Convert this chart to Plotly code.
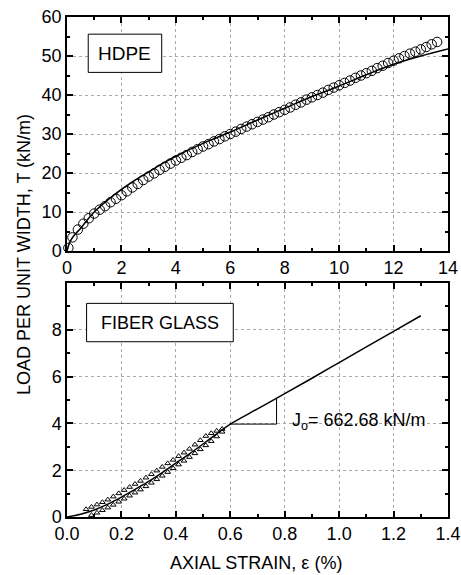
import plotly.graph_objects as go

# ---------------- data ----------------
# HDPE (top panel): measured points (open circles)
hdpe_strain = [0.05] + [round(0.2 * i, 1) for i in range(1, 69)]
hdpe_load = [0.8, 3.5, 5.5, 7.0, 8.4, 9.6, 10.6, 11.5, 12.5, 13.4,
             14.3, 15.3, 16.3, 17.2, 18.2, 19.1, 19.9, 20.8, 21.6, 22.4,
             23.2, 23.9, 24.6, 25.4, 26.1, 26.8, 27.4, 28.1, 28.7, 29.4,
             30.0, 30.6, 31.3, 31.9, 32.5, 33.1, 33.7, 34.3, 35.0, 35.6,
             36.2, 36.8, 37.5, 38.1, 38.8, 39.4, 40.0, 40.6, 41.3, 41.9,
             42.5, 43.1, 43.7, 44.4, 45.0, 45.6, 46.2, 46.9, 47.5, 48.2,
             48.8, 49.4, 50.0, 50.6, 51.1, 51.7, 52.3, 53.0, 53.6]
# HDPE fitted curve (solid line)
hdpe_fit_strain = [0, 0.1, 0.25, 0.5, 0.75, 1, 1.5, 2, 2.5, 3, 3.5, 4, 5, 6, 7, 8, 9, 10, 11, 12, 13, 14]
hdpe_fit_load = [0, 2.2, 3.9, 5.8, 8.0, 10.0, 13.1, 15.8, 18.2, 20.3, 22.4, 24.3, 27.6, 30.5,
                 33.6, 36.6, 39.6, 42.3, 45.2, 47.9, 50.0, 51.8]

# Fiber glass (bottom panel): measured points, two rows of triangles
fg_upper_strain = [0.07, 0.09, 0.11, 0.13, 0.15, 0.17, 0.19, 0.21, 0.23, 0.25, 0.27, 0.29, 0.31,
                   0.33, 0.35, 0.37, 0.39, 0.41, 0.43, 0.45, 0.47, 0.49, 0.51, 0.53, 0.55, 0.57]
fg_upper_load = [0.33, 0.43, 0.53, 0.63, 0.74, 0.87, 1.01, 1.15, 1.28, 1.41, 1.54, 1.68, 1.83,
                 1.98, 2.14, 2.29, 2.44, 2.60, 2.75, 2.91, 3.09, 3.28, 3.46, 3.58, 3.68, 3.76]
fg_lower_strain = [0.09, 0.11, 0.13, 0.15, 0.17, 0.19, 0.21, 0.23, 0.25, 0.27, 0.29, 0.31, 0.33,
                   0.35, 0.37, 0.39, 0.41, 0.43, 0.45, 0.47, 0.49, 0.51, 0.53, 0.55, 0.57]
fg_lower_load = [0.08, 0.18, 0.29, 0.40, 0.52, 0.65, 0.78, 0.91, 1.04, 1.17, 1.31, 1.46, 1.61,
                 1.76, 1.92, 2.08, 2.24, 2.40, 2.56, 2.72, 2.89, 3.06, 3.24, 3.44, 3.64]
# Fiber glass fitted curve
fg_fit_strain = [0, 0.05, 0.1, 0.15, 0.2, 0.25, 0.3, 0.35, 0.4, 0.45, 0.5, 0.55, 0.6,
                 0.7, 0.8, 0.9, 1.0, 1.1, 1.2, 1.3]
fg_fit_load = [0, 0.12, 0.3, 0.55, 0.85, 1.18, 1.52, 1.9, 2.3, 2.7, 3.12, 3.55, 3.97,
               4.62, 5.27, 5.93, 6.6, 7.27, 7.93, 8.6]
# slope triangle for J_o
slope_tri_strain = [0.6, 0.77, 0.77]
slope_tri_load = [3.97, 3.97, 5.08]

top_xticks = [0, 2, 4, 6, 8, 10, 12, 14]
top_yticks = [0, 10, 20, 30, 40, 50, 60]
bot_xticks = [0.0, 0.2, 0.4, 0.6, 0.8, 1.0, 1.2, 1.4]
bot_xticklabels = ["0.0", "0.2", "0.4", "0.6", "0.8", "1.0", "1.2", "1.4"]
bot_yticks = [0, 2, 4, 6, 8]

FONT = "Liberation Sans, Arial, sans-serif"
BLACK = "black"

fig = go.Figure()

# top panel
fig.add_trace(go.Scatter(x=hdpe_strain, y=hdpe_load, mode="markers",
                         marker=dict(symbol="circle-open", size=9.5, color=BLACK, line=dict(width=1)),
                         xaxis="x", yaxis="y", showlegend=False, cliponaxis=False))
fig.add_trace(go.Scatter(x=hdpe_fit_strain, y=hdpe_fit_load, mode="lines",
                         line=dict(color=BLACK, width=1.5, shape="spline"),
                         xaxis="x", yaxis="y", showlegend=False))
# bottom panel
fig.add_trace(go.Scatter(x=fg_upper_strain, y=fg_upper_load, mode="markers",
                         marker=dict(symbol="triangle-up-open", size=5, color=BLACK, line=dict(width=1)),
                         xaxis="x2", yaxis="y2", showlegend=False))
fig.add_trace(go.Scatter(x=fg_lower_strain, y=fg_lower_load, mode="markers",
                         marker=dict(symbol="triangle-up-open", size=5, color=BLACK, line=dict(width=1)),
                         xaxis="x2", yaxis="y2", showlegend=False))
fig.add_trace(go.Scatter(x=fg_fit_strain, y=fg_fit_load, mode="lines",
                         line=dict(color=BLACK, width=1.5, shape="spline"),
                         xaxis="x2", yaxis="y2", showlegend=False))
fig.add_trace(go.Scatter(x=slope_tri_strain, y=slope_tri_load, mode="lines",
                         line=dict(color=BLACK, width=1),
                         xaxis="x2", yaxis="y2", showlegend=False))

axis_common = dict(showline=True, linecolor=BLACK, linewidth=1.5, mirror="allticks",
                   ticks="inside", ticklen=6, tickwidth=1.5, tickcolor=BLACK,
                   showgrid=True, gridcolor="#a8a8a8", gridwidth=1, griddash="dot",
                   zeroline=False, automargin=False, ticklabeloverflow="allow",
                   tickfont=dict(family=FONT, size=18, color=BLACK))

fig.update_layout(
    width=461, height=575,
    margin=dict(l=67, r=13, t=17, b=58),
    paper_bgcolor="white", plot_bgcolor="white",
    font=dict(family=FONT, size=18, color=BLACK),
    xaxis=dict(domain=[0, 1], anchor="y", range=[0, 14], tickvals=top_xticks,
               minor=dict(ticks="inside", ticklen=3, dtick=1, tick0=0, tickcolor=BLACK, showgrid=False),
               **axis_common),
    yaxis=dict(domain=[0.532, 1], anchor="x", range=[0, 60], tickvals=top_yticks,
               minor=dict(ticks="inside", ticklen=3, dtick=5, tick0=0, tickcolor=BLACK, showgrid=False),
               **axis_common),
    xaxis2=dict(domain=[0, 1], anchor="y2", range=[0, 1.4], tickvals=bot_xticks,
                ticktext=bot_xticklabels,
                minor=dict(ticks="inside", ticklen=3, dtick=0.1, tick0=0, tickcolor=BLACK, showgrid=False),
                **axis_common),
    yaxis2=dict(domain=[0, 0.468], anchor="x2", range=[0, 10], tickvals=bot_yticks,
                minor=dict(ticks="inside", ticklen=3, dtick=1, tick0=0, tickcolor=BLACK, showgrid=False),
                **axis_common),
)

# label boxes
fig.add_shape(type="rect", xref="x", yref="y", x0=0.78, x1=3.48, y0=45.8, y1=55.6,
              line=dict(color=BLACK, width=1), fillcolor="white", layer="above")
fig.add_annotation(x=2.13, y=50.7, xref="x", yref="y", text="HDPE", showarrow=False,
                   xanchor="center", yanchor="middle",
                   font=dict(family=FONT, size=19, color=BLACK))
fig.add_shape(type="rect", xref="x2", yref="y2", x0=0.072, x1=0.611, y0=7.49, y1=9.13,
              line=dict(color=BLACK, width=1), fillcolor="white", layer="above")
fig.add_annotation(x=0.342, y=8.31, xref="x2", yref="y2", text="FIBER GLASS", showarrow=False,
                   xanchor="center", yanchor="middle",
                   font=dict(family=FONT, size=18, color=BLACK))

fig.add_annotation(x=0.82, y=4.1, xref="x2", yref="y2", xanchor="left", yanchor="middle",
                   text="J<sub>o</sub>= 662.68 kN/m", showarrow=False,
                   font=dict(family=FONT, size=18, color=BLACK))

# axis titles
fig.add_annotation(x=0.497, y=-0.092, xref="paper", yref="paper", text="AXIAL STRAIN, ε (%)",
                   xanchor="center", yanchor="middle",
                   showarrow=False, font=dict(family=FONT, size=18, color=BLACK))
fig.add_annotation(x=-0.113, y=0.526, xref="paper", yref="paper", textangle=-90,
                   xanchor="center", yanchor="middle",
                   text="LOAD PER UNIT WIDTH, T (kN/m)", showarrow=False,
                   font=dict(family=FONT, size=18, color=BLACK))

# remove the default page margin so the figure fills the window exactly
fig.write_html("out.html", config={"displayModeBar": False},
               post_script="document.body.style.margin='0px';document.body.style.overflow='hidden';")
